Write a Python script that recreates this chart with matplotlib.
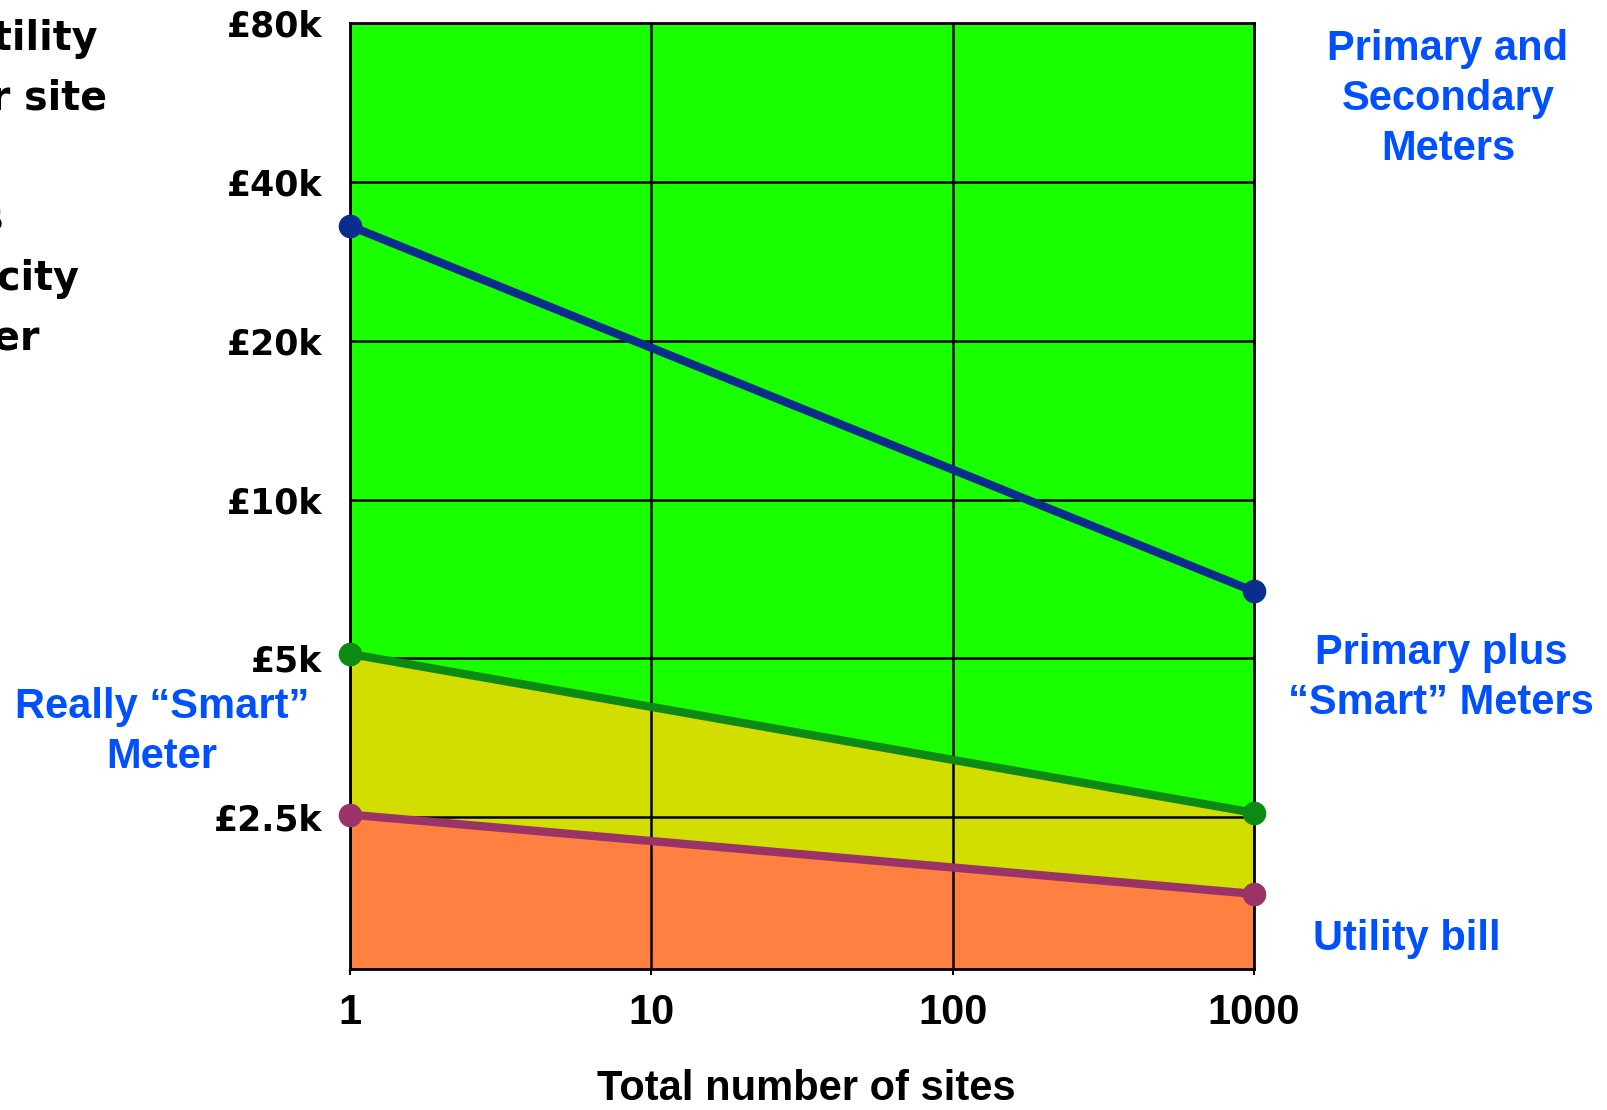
import matplotlib
matplotlib.use("Agg")
import matplotlib.pyplot as plt
from matplotlib.ticker import FixedLocator, NullLocator

# ---- data ----
sites = [1, 1000]
primary_secondary = [33000, 6700]     # blue line
primary_smart = [5100, 2550]          # green line
utility_bill = [2530, 1790]           # purple line
x_ticks = [1, 10, 100, 1000]
x_tick_labels = ["1", "10", "100", "1000"]
y_ticks = [2500, 5000, 10000, 20000, 40000, 80000]
y_tick_labels = ["£2.5k", "£5k", "£10k", "£20k", "£40k", "£80k"]
y_min, y_max = 1290, 80000

W, H = 1608, 1110
fig = plt.figure(figsize=(W / 100, H / 100), dpi=100)
ax = fig.add_axes([350 / W, 1 - 969 / H, (1254 - 350) / W, (969 - 23) / H])

ax.set_xscale("log")
ax.set_yscale("log", base=2)
ax.set_xlim(1, 1000)
ax.set_ylim(y_min, y_max)
ax.set_facecolor("#19FF00")

# fills
ax.fill_between(sites, [y_min, y_min], utility_bill, color="#FF8040", lw=0, zorder=1)
ax.fill_between(sites, utility_bill, primary_smart, color="#D2DE00", lw=0, zorder=1)

# lines
kw = dict(lw=6, marker="o", markersize=16, clip_on=False, zorder=3, solid_capstyle="round")
ax.plot(sites, primary_secondary, color="#0B2E8E", **kw)
ax.plot(sites, primary_smart, color="#0C8A14", **kw)
ax.plot(sites, utility_bill, color="#9A3468", **kw)

# ticks
ax.xaxis.set_major_locator(FixedLocator(x_ticks))
ax.xaxis.set_minor_locator(NullLocator())
ax.set_xticklabels(x_tick_labels, fontfamily="Liberation Sans", fontweight="bold", fontsize=30)
ax.yaxis.set_major_locator(FixedLocator(y_ticks))
ax.yaxis.set_minor_locator(NullLocator())
ax.set_yticklabels(y_tick_labels, fontfamily="DejaVu Sans", fontweight="bold", fontsize=25)
ax.tick_params(axis="x", length=4, width=1.5, pad=13, color="black")
ax.tick_params(axis="y", length=0, pad=20)

ax.grid(True, which="major", color="black", lw=1.8)
for s in ax.spines.values():
    s.set_color("black")
    s.set_linewidth(2)

# x label
fig.text(806 / W, 1 - 1089 / H, "Total number of sites", ha="center", va="center",
         fontfamily="Liberation Sans", fontweight="bold", fontsize=30)

blue = "#0050FF"
bk = dict(fontfamily="Liberation Sans", fontweight="bold", fontsize=30, color=blue,
          ha="center", va="center", linespacing=1.33)
fig.text(1448 / W, 1 - 99 / H, "Primary and\nSecondary\nMeters", **bk)
fig.text(1441 / W, 1 - 678 / H, "Primary plus\n\u201cSmart\u201d Meters", **bk)
fig.text(1407 / W, 1 - 939 / H, "Utility bill", **bk)
fig.text(162 / W, 1 - 732 / H, "Really \u201cSmart\u201d\nMeter", **bk)

# left-hand description (cut off by the figure edge, as in the original)
left_lines = [("Cost of utility", 98, 50), ("metering per site", 107, 110),
              ("Assumes", 4, 230), ("electricity", 79, 290), ("meter", 40, 350)]
for txt, xr, yb in left_lines:
    fig.text(xr / W, 1 - yb / H, txt, ha="right", va="baseline",
             fontfamily="DejaVu Sans", fontweight="bold", fontsize=28.5, color="black")

fig.savefig("out.png", dpi=100)
